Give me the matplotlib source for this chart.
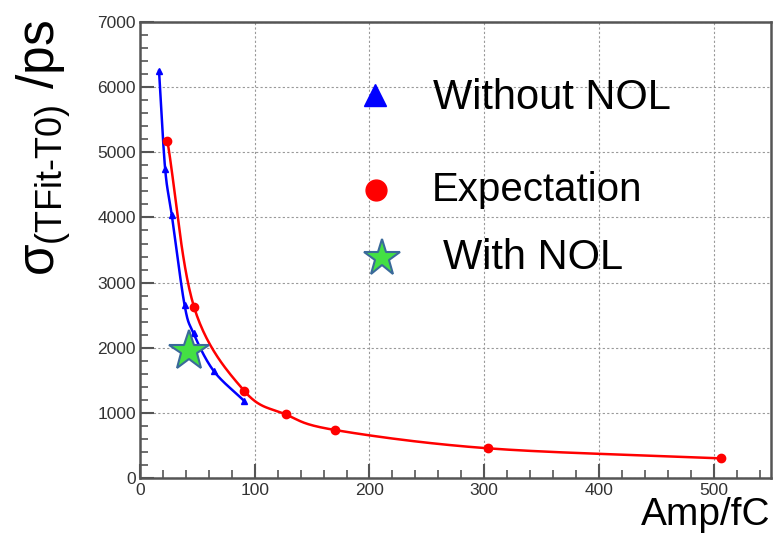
import numpy as np
import matplotlib
matplotlib.use("Agg")
import matplotlib.pyplot as plt

plt.rcParams['font.family'] = ['Liberation Sans', 'DejaVu Sans']
plt.rcParams['mathtext.fontset'] = 'custom'
plt.rcParams['mathtext.rm'] = 'Liberation Sans'
plt.rcParams['mathtext.it'] = 'Liberation Sans'
plt.rcParams['mathtext.sf'] = 'Liberation Sans'

# Data
amp_without = [16.6, 21.9, 27.7, 38.8, 46.7, 64.2, 90.4]
sigma_without = [6250, 4750, 4040, 2660, 2220, 1645, 1190]
amp_expect = [23.9, 47.2, 91.0, 126.9, 170.0, 303.3, 506.0]
sigma_expect = [5180, 2620, 1335, 978, 737, 456, 302]
amp_nol = [42.3]
sigma_nol = [1950]

XMAX, YMAX = 550, 7000


def smooth(xs, ys, n=30):
    # Catmull-Rom curve through the given points (for drawing only)
    P = np.column_stack([np.asarray(xs, float) / XMAX, np.asarray(ys, float) / YMAX * 0.72])
    P = np.vstack([2 * P[0] - P[1], P, 2 * P[-1] - P[-2]])
    out = []
    for i in range(1, len(P) - 2):
        p0, p1, p2, p3 = P[i - 1], P[i], P[i + 1], P[i + 2]
        t = np.linspace(0, 1, n)[:, None]
        seg = 0.5 * ((2 * p1) + (-p0 + p2) * t + (2 * p0 - 5 * p1 + 4 * p2 - p3) * t ** 2
                     + (-p0 + 3 * p1 - 3 * p2 + p3) * t ** 3)
        out.append(seg)
    out = np.vstack(out)
    return out[:, 0] * XMAX, out[:, 1] / 0.72 * YMAX


fig = plt.figure(figsize=(7.76, 5.38), dpi=100)
ax = fig.add_axes([0.1804, 0.1115, 0.8132, 0.8475])

ax.set_xlim(0, XMAX)
ax.set_ylim(0, YMAX)

ax.grid(True, which='major', color='#999999', linestyle=(0, (2, 2)), linewidth=0.8)
ax.set_axisbelow(True)

bx, by = smooth(amp_without, sigma_without)
ax.plot(bx, by, color='#0000ff', lw=1.8, zorder=3)
ax.plot(amp_without, sigma_without, '^', color='#0000ff', ms=5, zorder=4)

rx, ry = smooth(amp_expect, sigma_expect)
ax.plot(rx, ry, color='#ff0000', lw=1.8, zorder=3)
ax.plot(amp_expect, sigma_expect, 'o', color='#ff0000', ms=6, zorder=4)

ax.plot(amp_nol, sigma_nol, '*', color='#44e044', mec='#3a6a9a', mew=1.5, ms=30, zorder=5)

ax.set_xticks([0, 100, 200, 300, 400, 500])
ax.set_xticks(np.arange(0, 551, 20), minor=True)
ax.set_yticks(np.arange(0, 7001, 1000))
ax.set_yticks(np.arange(0, 7001, 200), minor=True)
ax.tick_params(which='both', direction='in', colors='#555555', labelcolor='#333333', labelsize=12.5)
ax.tick_params(axis='y', pad=3)
ax.tick_params(which='major', length=10, width=1.5)
ax.tick_params(which='minor', length=6, width=1.2)
for s in ax.spines.values():
    s.set_color('#555555')
    s.set_linewidth(1.8)

# Legend (no frame)
fig.lines.append(plt.Line2D([375 / 776], [1 - 95 / 538], marker='^', color='#0000ff', ms=16,
                            transform=fig.transFigure, linestyle='none'))
fig.text(433 / 776, 1 - 98 / 538, 'Without NOL', fontsize=30, ha='left', va='center')
fig.lines.append(plt.Line2D([376 / 776], [1 - 190 / 538], marker='o', color='#ff0000', ms=15,
                            transform=fig.transFigure, linestyle='none'))
fig.text(432 / 776, 1 - 190 / 538, 'Expectation', fontsize=29, ha='left', va='center')
fig.lines.append(plt.Line2D([382 / 776], [1 - 258 / 538], marker='*', color='#44e044', mec='#3a6a9a',
                            mew=1.5, ms=28, transform=fig.transFigure, linestyle='none'))
fig.text(443 / 776, 1 - 258 / 538, 'With NOL', fontsize=30, ha='left', va='center')

# Axis labels
fig.text(44 / 776, 1 - 148 / 538, r'$\sigma_{\mathrm{(TFit}\text{-}\mathrm{T0)}}$ /ps', rotation=90,
         fontsize=37, ha='center', va='center')
fig.text(770 / 776, 1 - 515 / 538, 'Amp/fC', fontsize=28, ha='right', va='center')

fig.savefig('out.png', dpi=100)
